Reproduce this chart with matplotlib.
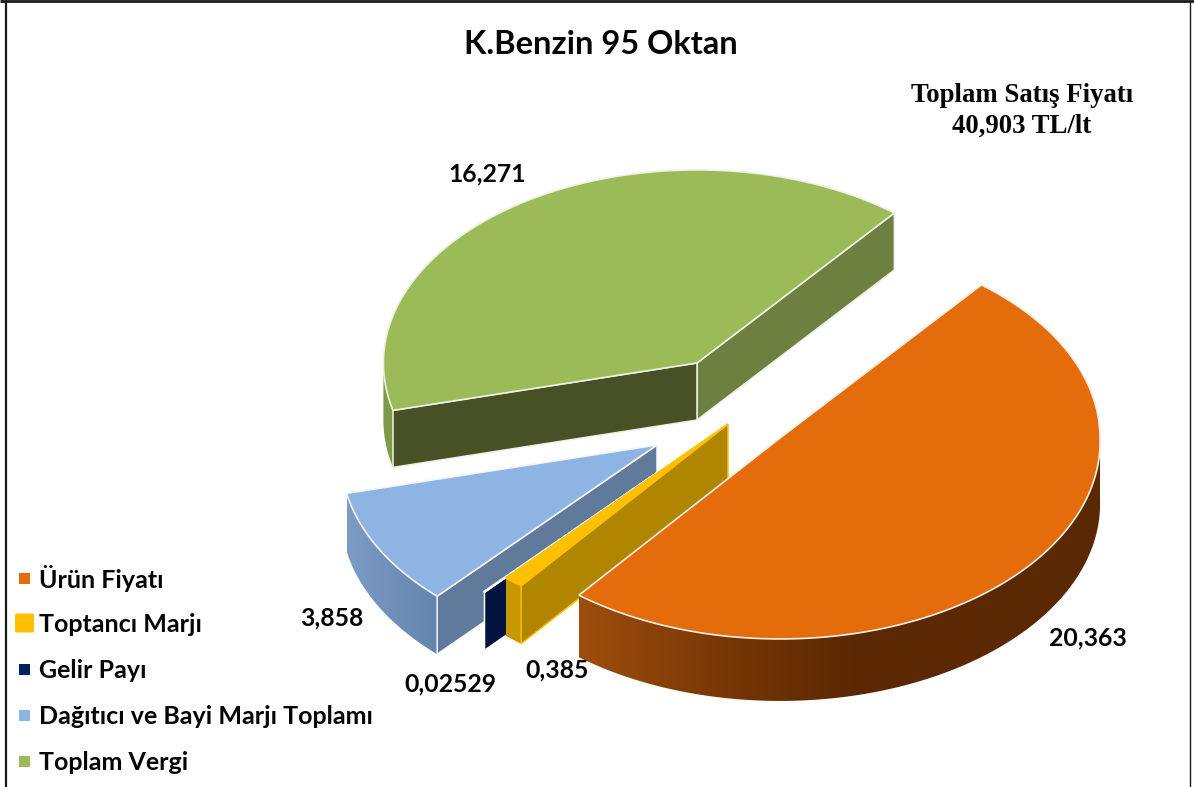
import numpy as np
import matplotlib
matplotlib.use("Agg")
import matplotlib.pyplot as plt
from matplotlib.colors import to_rgb
from matplotlib.patches import Polygon, Rectangle, FancyBboxPatch

# ---- data ----
categories = ["Ürün Fiyatı", "Toptancı Marjı", "Gelir Payı", "Dağıtıcı ve Bayi Marjı Toplamı", "Toplam Vergi"]
values = [20.363, 0.385, 0.02529, 3.858, 16.271]
value_labels = ["20,363", "0,385", "0,02529", "3,858", "16,271"]
title = "K.Benzin 95 Oktan"
total_note = ["Toplam Satış Fiyatı", "40,903 TL/lt"]

# ---- style / layout ----
top_colors = ["#E46C0A", "#FFC000", "#FFFFFF", "#8DB4E2", "#9BBB59"]
legend_colors = ["#E46C0A", "#FFC000", "#002060", "#8DB4E2", "#9BBB59"]
face_start = ["#000000", "#B08500", "#00143F", "#5F7A9B", "#485025"]
face_end = ["#6E8040"] * 5
edge_colors = ["#F4EFE8", "#FFC000", "#FFFFFF", "#F4F6FA", "#EEF2E4"]
# wall gradient stops, as fractions across each slice's visible wall (left to right)
wall_stops = [
    [(0.0, "#9E4E0C"), (0.30, "#753505"), (0.52, "#5C2903"), (1.0, "#5A2803")],
    [(0.0, "#C79700"), (1.0, "#C79700")],
    [(0.0, "#00143F"), (1.0, "#00143F")],
    [(0.0, "#7C9CC6"), (1.0, "#6384AC")],
    [(0.0, "#7F9A48"), (1.0, "#7F9A48")],
]
apex = [(780, 438), (728, 424), (697, 445), (657, 445), (697, 363)]
scale = [1.0, 1.045, 1.0, 0.986, 0.98]
persp = [0.02, 0.0, 0.0, 0.06, 0.0]
depth = [62.0, 58.0, 58.0, 58.0, 57.0]
RX, RY = 320.0, 197.0
START_ANGLE = 51.0

fig = plt.figure(figsize=(11.94, 7.87), dpi=100)
ax = fig.add_axes([0, 0, 1, 1])
ax.set_xlim(0, 1194)
ax.set_ylim(787, 0)
ax.axis("off")

sweeps = np.array(values) / np.sum(values) * 360.0
ends = START_ANGLE - np.cumsum(sweeps)
starts = ends + sweeps


def rim(i, t_deg):
    t = np.radians(np.atleast_1d(t_deg))
    s = scale[i] * (1 + persp[i] * np.maximum(0, -np.sin(t)))
    return np.column_stack([apex[i][0] + RX * s * np.cos(t), apex[i][1] - RY * s * np.sin(t)])


def shift(i, p):
    return np.asarray(p) + np.array([0, depth[i]])


def cut_face(i, t, color, z):
    a = np.array(apex[i], float)
    c = rim(i, t)[0]
    ax.add_patch(Polygon([a, c, shift(i, c), shift(i, a)], closed=True, fc=color,
                         ec=edge_colors[i], lw=1.1, zorder=z))


def wall(i, t0, t1, z):
    # visible outer wall: the part of the rim facing the viewer, filled with a horizontal gradient
    lo, hi = min(t0, t1), max(t0, t1)
    for k in range(-1, 1):
        a, b = max(lo, -180 + 360 * k), min(hi, 360 * k)
        if b <= a:
            continue
        pts = rim(i, np.linspace(a, b, max(2, int(b - a) * 2 + 1)))
        outline = np.vstack([pts, shift(i, pts)[::-1]])
        x0, x1 = outline[:, 0].min(), outline[:, 0].max()
        y0, y1 = outline[:, 1].min(), outline[:, 1].max()
        fr = np.linspace(0, 1, 512)
        stops = wall_stops[i]
        xs = [s[0] for s in stops]
        rgb = np.array([to_rgb(s[1]) for s in stops])
        img = np.stack([np.interp(fr, xs, rgb[:, c]) for c in range(3)], axis=1)[None, :, :]
        im = ax.imshow(img, extent=(x0, x1, y1, y0), aspect="auto", interpolation="bilinear", zorder=z)
        clip = Polygon(outline, closed=True, transform=ax.transData, fc="none", ec="none")
        ax.add_patch(clip)
        im.set_clip_path(clip)


order = [4, 3, 2, 1, 0]
for z, i in enumerate(order):
    base = 10 * (z + 1)
    t0, t1 = starts[i], ends[i]
    if np.cos(np.radians(t1)) > 0:
        cut_face(i, t1, face_end[i], base)
    wall(i, t0, t1, base + 1)
    if np.cos(np.radians(t0)) < 0:
        cut_face(i, t0, face_start[i], base + 2)
    ts = np.linspace(t0, t1, max(3, int(abs(t0 - t1)) * 2 + 1))
    pts = rim(i, ts)
    ax.add_patch(Polygon(np.vstack([[apex[i]], pts]), closed=True, fc=top_colors[i],
                         ec=edge_colors[i], lw=1.2, joinstyle="miter", zorder=base + 3))
ax.set_xlim(0, 1194)
ax.set_ylim(787, 0)

# ---- texts ----
BOLD = dict(family="Lato", fontweight="bold", color="#050505")
ax.text(601, 44, title, fontsize=23.5, ha="center", va="center", zorder=100, **BOLD)
for line, y in zip(total_note, [96, 126]):
    ax.text(1022, y, line, fontsize=19.3, ha="center", va="center",
            family="Liberation Serif", fontweight="bold", color="#050505", zorder=100)

label_pos = [(1088, 638), (557, 670), (450, 684), (332, 618), (487, 174)]
for txt, (x, y) in zip(value_labels, label_pos):
    ax.text(x, y, txt, fontsize=17.8, ha="center", va="center", zorder=100, **BOLD)

legend_y = [578, 623, 669, 715, 761]
for name, col, y in zip(categories, legend_colors, legend_y):
    if col == "#FFC000":
        ax.add_patch(FancyBboxPatch((17, y - 7.5), 15, 15, boxstyle="round,pad=2,rounding_size=2",
                                    fc=col, ec="none", zorder=100))
    else:
        ax.add_patch(Rectangle((19, y - 5.5), 11, 11, fc=col, ec="none", zorder=100))
    ax.text(39, y + 1, name, fontsize=18, ha="left", va="center", zorder=100, **BOLD)

# ---- frame ----
ax.plot([6, 6], [0, 787], color="#1A1A1A", lw=1.6, zorder=100, solid_capstyle="butt")
ax.plot([0, 1194], [1, 1], color="#1A1A1A", lw=2.0, zorder=100, solid_capstyle="butt")
ax.plot([1189.5, 1189.5], [0, 787], color="#1A1A1A", lw=1.0, zorder=100, solid_capstyle="butt")

fig.savefig("out.png", dpi=100, facecolor="white")
